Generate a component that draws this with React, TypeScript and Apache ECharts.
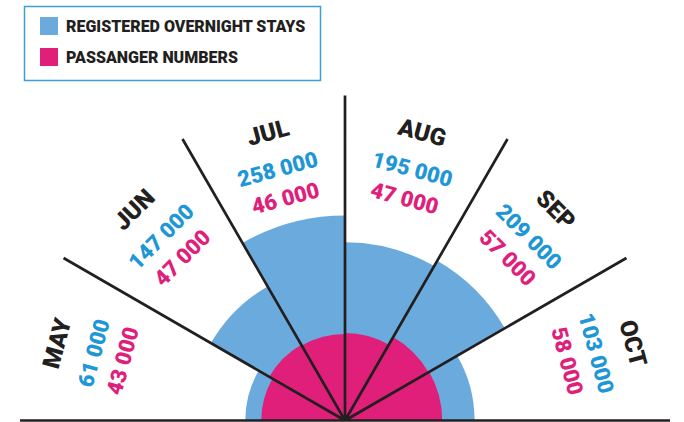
import React, { useEffect, useRef } from "react";
import * as echarts from "echarts";

const MONTHS = ["MAY", "JUN", "JUL", "AUG", "SEP", "OCT"];
const OVERNIGHT_STAYS = [61000, 147000, 258000, 195000, 209000, 103000];
const PASSENGERS = [43000, 47000, 46000, 47000, 57000, 58000];
const SERIES_NAMES = ["REGISTERED OVERNIGHT STAYS", "PASSANGER NUMBERS"];

const BLUE = "#6aaadc";
const PINK = "#df1f79";
const BLUE_TEXT = "#1f97d6";
const PINK_TEXT = "#df1f7b";
const DARK = "#231f20";
const FONT = "Roboto, 'Noto Sans', sans-serif";

// area-proportional sectors: radius ~ sqrt(value)
const R_MAX = 805;
const fmt = (v: number) => {
  const s = String(v);
  return s.slice(0, s.length - 3) + " " + s.slice(s.length - 3);
};

export default function App() {
  const ref = useRef<HTMLDivElement>(null);
  useEffect(() => {
    const chart = echarts.init(ref.current!, null, { renderer: "svg" });
    chart.setOption({
      animation: false,
      backgroundColor: "#ffffff",
      polar: { center: [345, 420.5], radius: 325 },
      angleAxis: {
        type: "category",
        data: MONTHS,
        startAngle: 180,
        endAngle: 0,
        clockwise: true,
        z: 10,
        axisLine: { show: false },
        axisTick: { show: false },
        axisLabel: { show: false },
        splitLine: { show: true, lineStyle: { color: DARK, width: 2.7 } },
      },
      radiusAxis: {
        type: "value",
        min: 0,
        max: R_MAX,
        axisLine: { show: false },
        axisTick: { show: false },
        axisLabel: { show: false },
        splitLine: { show: false },
      },
      legend: {
        data: SERIES_NAMES,
        orient: "vertical",
        left: 40,
        top: 17,
        padding: 0,
        itemWidth: 18,
        itemHeight: 18,
        itemGap: 13,
        icon: "rect",
        selectedMode: false,
        textStyle: {
          color: DARK,
          fontSize: 16,
          fontWeight: 900,
          fontFamily: FONT,
          padding: [0, 0, 0, 3],
        },
      },
      graphic: [
        {
          type: "rect",
          shape: { x: 24.5, y: 6.5, width: 296, height: 74 },
          style: { fill: "none", stroke: "#3d9fd9", lineWidth: 1.5 },
        },
      ],
      series: [
        {
          name: SERIES_NAMES[0],
          type: "bar",
          coordinateSystem: "polar",
          data: OVERNIGHT_STAYS.map((v) => Math.sqrt(v)),
          barCategoryGap: "0%",
          barGap: "-100%",
          itemStyle: { color: BLUE },
          z: 2,
        },
        {
          name: SERIES_NAMES[1],
          type: "bar",
          coordinateSystem: "polar",
          data: PASSENGERS.map((v) => Math.sqrt(v)),
          barCategoryGap: "0%",
          barGap: "-100%",
          itemStyle: { color: PINK },
          z: 3,
        },
        {
          type: "custom",
          coordinateSystem: "polar",
          silent: true,
          z: 20,
          data: MONTHS.map((_, i) => [0, i]),
          renderItem: (params: any, api: any) => {
            const i = params.dataIndex;
            const cs = params.coordSys;
            const mk = (rPx: number, text: string, color: string, size: number) => {
              const p = api.coord([(rPx / cs.r) * R_MAX, i]);
              const ang = Math.atan2(cs.cy - p[1], p[0] - cs.cx);
              return {
                type: "text",
                x: p[0],
                y: p[1],
                rotation: ang - Math.PI / 2,
                style: {
                  text,
                  fill: color,
                  fontSize: size,
                  fontWeight: 900,
                  fontFamily: FONT,
                  align: "center",
                  verticalAlign: "middle",
                },
              };
            };
            return {
              type: "group",
              children: [
                mk(298, MONTHS[i], DARK, 24),
                mk(260, fmt(OVERNIGHT_STAYS[i]), BLUE_TEXT, 22),
                mk(230, fmt(PASSENGERS[i]), PINK_TEXT, 22),
              ],
            };
          },
        },
      ],
    });
    return () => chart.dispose();
  }, []);
  return (
    <div
      ref={ref}
      style={{ position: "fixed", left: 0, top: 0, width: 684, height: 422 }}
    />
  );
}
